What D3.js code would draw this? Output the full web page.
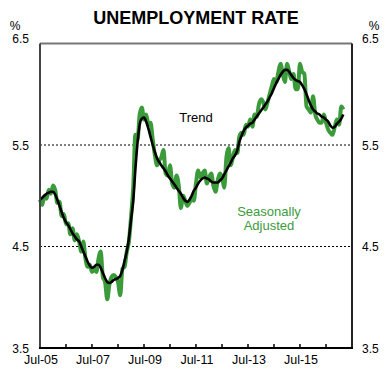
<!DOCTYPE html>
<html><head><meta charset="utf-8">
<script src="https://cdn.jsdelivr.net/npm/d3@7/dist/d3.min.js"></script>
<style>body{margin:0;background:#fff}svg{display:block;font-family:"Liberation Sans",Arial,sans-serif}</style>
</head><body><svg id="c" width="391" height="378"></svg>
<script>
// Monthly series starting Jul-2005
const startYear = 2005, startMonth = 6; // July
const trend = [4.96,4.98,5.00,5.02,5.03,5.04,5.04,5.01,4.96,4.90,4.84,4.78,
4.74,4.71,4.67,4.63,4.60,4.57,4.55,4.50,4.45,4.40,4.35,4.31,
4.29,4.30,4.32,4.32,4.29,4.24,4.19,4.15,4.14,4.15,4.17,4.18,
4.19,4.21,4.27,4.36,4.45,4.58,4.77,4.96,5.25,5.52,5.70,5.76,
5.77,5.73,5.66,5.58,5.50,5.43,5.37,5.33,5.30,5.27,5.24,5.20,
5.17,5.14,5.11,5.08,5.05,5.02,4.98,4.95,4.94,4.96,5.00,5.05,
5.08,5.12,5.15,5.17,5.18,5.17,5.16,5.14,5.13,5.13,5.13,5.15,
5.17,5.21,5.25,5.29,5.33,5.37,5.40,5.45,5.53,5.59,5.64,5.67,
5.69,5.71,5.72,5.75,5.78,5.81,5.84,5.87,5.90,5.93,5.97,6.01,
6.06,6.11,6.15,6.19,6.22,6.24,6.24,6.22,6.19,6.16,6.14,6.13,
6.12,6.09,6.05,6.00,5.94,5.89,5.85,5.83,5.81,5.80,5.78,5.77,
5.75,5.73,5.69,5.67,5.68,5.71,5.73,5.76,5.80];
const seasAdj = [4.96,4.91,5.00,4.97,5.06,5.02,5.10,5.05,4.93,4.94,4.80,4.82,
4.72,4.73,4.62,4.68,4.56,4.62,4.55,4.45,4.55,4.38,4.30,4.32,
4.25,4.28,4.25,4.38,4.45,4.20,4.15,3.98,4.12,4.20,4.22,4.20,
4.15,4.02,4.28,4.30,4.45,4.55,4.80,5.10,5.60,5.55,5.80,5.87,
5.75,5.80,5.70,5.72,5.55,5.40,5.30,5.35,5.38,5.45,5.22,5.20,
5.30,5.12,5.08,5.20,5.10,4.88,5.00,4.95,4.90,4.93,4.98,4.95,
5.12,5.25,5.18,5.22,5.25,5.12,5.18,5.22,5.10,5.04,5.15,5.22,
5.18,5.08,5.38,5.47,5.30,5.38,5.45,5.42,5.58,5.62,5.60,5.70,
5.68,5.75,5.68,5.80,5.78,5.90,5.95,5.92,5.85,5.92,6.00,6.08,
6.15,6.12,6.22,6.30,6.20,6.12,6.30,6.22,6.15,6.20,6.05,6.05,
6.30,6.22,6.20,5.88,5.85,5.82,5.98,5.80,5.75,5.72,5.72,5.80,
5.72,5.65,5.62,5.60,5.68,5.75,5.70,5.88,5.85];
const yTicks = [3.5, 4.5, 5.5, 6.5];
const gridValues = [4.5, 5.5];
const xLabelYears = [2005, 2007, 2009, 2011, 2013, 2015];
const xTickYears = [2006,2007,2008,2009,2010,2011,2012,2013,2014,2015,2016];

const svg = d3.select("#c");
const L = 40, R = 352, T = 43.5, B = 348;
const x = d3.scaleTime().domain([new Date(2005,6,1), new Date(2017,6,1)]).range([L, R]);
const y = d3.scaleLinear().domain([3.5, 6.5]).range([B, T]);
const dateOf = i => new Date(startYear, startMonth + i, 1);

// title
svg.append("text").attr("x", 196).attr("y", 24).attr("text-anchor","middle")
  .attr("font-size", 18).attr("font-weight","bold").text("UNEMPLOYMENT RATE");

// gridlines
svg.selectAll("line.grid").data(gridValues).enter().append("line")
  .attr("x1", L).attr("x2", R).attr("y1", d=>y(d)).attr("y2", d=>y(d))
  .attr("stroke","#000").attr("stroke-width",1).attr("stroke-dasharray","2,2");

// series
const line = d3.line().x((d,i)=>x(dateOf(i))).y(d=>y(d)).curve(d3.curveMonotoneX);
svg.append("path").datum(seasAdj).attr("d", line).attr("fill","none")
  .attr("stroke","#3b9b3b").attr("stroke-width",4).attr("stroke-linejoin","round");
svg.append("path").datum(trend).attr("d", line).attr("fill","none")
  .attr("stroke","#000").attr("stroke-width",2.6).attr("stroke-linejoin","round");

// frame
svg.append("line").attr("x1",L).attr("x2",R).attr("y1",T).attr("y2",T).attr("stroke","#777").attr("stroke-width",2);
svg.append("line").attr("x1",L).attr("x2",L).attr("y1",T).attr("y2",B).attr("stroke","#444").attr("stroke-width",2);
svg.append("line").attr("x1",R).attr("x2",R).attr("y1",T).attr("y2",B).attr("stroke","#222").attr("stroke-width",2);
svg.append("line").attr("x1",L-1).attr("x2",R+1).attr("y1",B).attr("y2",B).attr("stroke","#000").attr("stroke-width",2);

// x ticks (inside, upward)
svg.selectAll("line.xt").data(xTickYears).enter().append("line")
  .attr("x1", d=>x(new Date(d,6,1))).attr("x2", d=>x(new Date(d,6,1)))
  .attr("y1", B).attr("y2", B-4).attr("stroke","#000").attr("stroke-width",1.5);

// x labels
svg.selectAll("text.xl").data(xLabelYears).enter().append("text")
  .attr("x", d=>x(new Date(d,6,1))+1).attr("y", 364).attr("text-anchor","middle")
  .attr("font-size", 12.5).text(d=>"Jul-" + String(d).slice(2));

// y labels both sides
const yl = d => d.toFixed(1);
const yOff = d => d === 6.5 ? -5 : 0;
svg.selectAll("text.yl").data(yTicks).enter().append("text")
  .attr("x", 29).attr("y", d=>y(d)+yOff(d)+4.5).attr("text-anchor","end")
  .attr("font-size",12).text(yl);
svg.selectAll("text.yr").data(yTicks).enter().append("text")
  .attr("x", 362).attr("y", d=>y(d)+yOff(d)+4.5).attr("text-anchor","start")
  .attr("font-size",12).text(yl);
svg.append("text").attr("x",15).attr("y",29.5).attr("text-anchor","middle").attr("font-size",12).text("%");
svg.append("text").attr("x",374).attr("y",29.5).attr("text-anchor","middle").attr("font-size",12).text("%");

// annotations
svg.append("text").attr("x",196).attr("y",122).attr("text-anchor","middle")
  .attr("font-size",13).attr("fill","#000").text("Trend");
svg.append("text").attr("x",269).attr("y",216).attr("text-anchor","middle")
  .attr("font-size",13).attr("fill","#3b9b3b").text("Seasonally");
svg.append("text").attr("x",269).attr("y",230).attr("text-anchor","middle")
  .attr("font-size",13).attr("fill","#3b9b3b").text("Adjusted");
</script></body></html>
